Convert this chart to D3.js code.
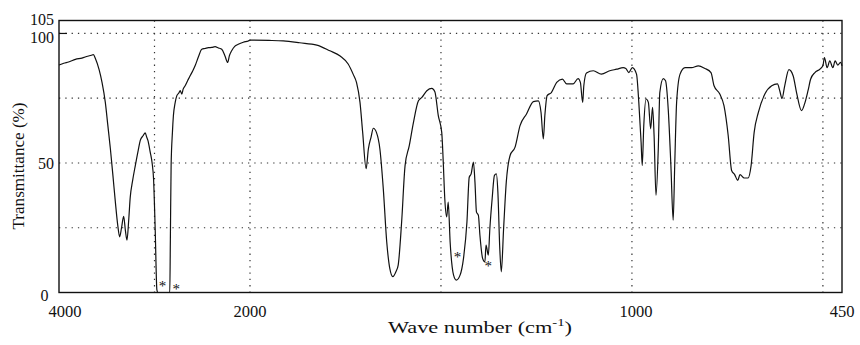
<!DOCTYPE html>
<html>
<head>
<meta charset="utf-8">
<script src="https://cdn.jsdelivr.net/npm/d3@7"></script>
<style>
  body { margin: 0; background: #fff; }
  svg text { font-family: "Liberation Serif", "DejaVu Serif", serif; fill: #111; }
</style>
</head>
<body>
<svg width="860" height="345"></svg>
<script>
// Spectrum: wave number (cm-1) and transmittance (%).
var waveNumber = [
    4000, 3950, 3900, 3828, 3760, 3700, 3661, 3640, 3619, 3580, 3549, 3515, 3490, 3462, 3435,
    3410, 3385, 3365, 3345, 3323, 3305, 3288, 3270, 3254, 3230, 3201, 3170, 3149, 3120, 3097,
    3082, 3069, 3045, 3025, 3010, 2993, 2975, 2965, 2900, 2840, 2834, 2826, 2812, 2802, 2785,
    2766, 2745, 2731, 2714, 2700, 2679, 2650, 2627, 2600, 2575, 2540, 2505, 2470, 2436, 2400,
    2366, 2330, 2296, 2262, 2234, 2215, 2192, 2160, 2123, 2070, 2018, 2000, 1950, 1913, 1870,
    1825, 1791, 1764, 1743, 1730, 1721, 1712, 1705, 1696, 1690, 1683, 1677, 1669, 1660, 1651,
    1642, 1634, 1626, 1618, 1612, 1603, 1594, 1583, 1572, 1559, 1550, 1537, 1524, 1516, 1507,
    1498, 1494, 1490, 1485, 1481, 1476, 1467, 1460, 1450, 1441, 1432, 1426, 1421, 1415, 1411,
    1407, 1402, 1398, 1391, 1385, 1382, 1376, 1372, 1366, 1360, 1355, 1351, 1346, 1342, 1336,
    1329, 1319, 1306, 1293, 1276, 1258, 1245, 1238, 1232, 1228, 1222, 1211, 1197, 1182, 1171,
    1154, 1141, 1135, 1129, 1126, 1119, 1101, 1080, 1058, 1040, 1023, 1016, 1008, 999, 988,
    982, 976, 973, 969, 963, 957, 951, 946, 942, 937, 931, 927, 918, 912, 905,
    898, 892, 888, 883, 874, 861, 844, 826, 809, 793, 785, 770, 759, 748, 739,
    731, 723, 717, 706, 696, 688, 680, 669, 652, 634, 619, 613, 607, 600, 589,
    578, 569, 556, 548, 539, 532, 521, 508, 500, 496, 489, 482, 474, 468, 461,
    454, 450
];
var transmittance = [
    87.8, 88.5, 89.0, 90.0, 90.5, 91.2, 91.6, 91.8, 90.3, 86.0, 81.0, 73.4, 65.0, 55.5, 45.0,
    35.0, 26.0, 21.5, 25.0, 29.4, 24.0, 20.2, 28.0, 36.8, 43.0, 49.0, 55.0, 58.7, 60.5, 61.6,
    60.0, 58.7, 54.2, 50.0, 43.9, 24.8, 1.0, 0.0, 0.0, 0.0, 20.0, 49.0, 62.0, 68.3, 73.0,
    76.0, 77.0, 77.9, 76.6, 78.5, 79.8, 82.0, 83.7, 85.5, 87.5, 91.0, 93.9, 94.2, 94.5, 94.6,
    94.9, 94.4, 93.9, 91.3, 88.8, 91.5, 93.3, 95.0, 95.8, 96.6, 97.1, 97.4, 97.3, 97.1, 96.4,
    95.5, 93.3, 91.3, 88.2, 84.3, 81.0, 73.4, 61.8, 47.8, 55.5, 60.0, 63.4, 61.8, 55.5, 40.0,
    19.5, 9.3, 6.1, 8.0, 10.6, 27.2, 49.0, 56.7, 65.7, 74.0, 75.3, 77.9, 78.8, 77.5, 68.3,
    61.8, 50.3, 36.2, 29.2, 34.9, 19.5, 6.7, 4.8, 6.7, 13.2, 27.2, 44.5, 45.8, 50.3, 42.6,
    31.0, 29.8, 22.1, 13.2, 11.8, 18.3, 14.4, 24.7, 36.2, 45.2, 45.8, 38.8, 17.0, 8.0, 24.7,
    42.6, 52.9, 56.1, 64.4, 68.9, 73.7, 74.0, 69.5, 59.3, 68.3, 76.0, 77.2, 81.1, 82.4, 80.5,
    80.5, 82.6, 81.1, 73.4, 79.8, 84.7, 85.6, 84.3, 85.6, 86.2, 86.8, 86.5, 84.9, 86.8, 84.3,
    73.4, 58.0, 49.0, 64.4, 74.7, 73.4, 63.2, 71.5, 60.6, 37.5, 55.5, 77.2, 82.6, 81.7, 70.8,
    49.0, 27.9, 49.0, 73.4, 84.3, 86.8, 86.8, 87.5, 86.5, 84.9, 79.8, 76.6, 72.1, 60.6, 47.1,
    45.5, 43.3, 45.5, 44.2, 44.2, 49.0, 61.8, 69.5, 76.6, 79.8, 80.5, 77.9, 74.9, 79.8, 86.0,
    83.7, 77.2, 70.2, 72.8, 77.9, 82.4, 84.9, 86.2, 87.5, 90.7, 86.8, 89.4, 86.8, 89.4, 87.8,
    88.8, 87.5
];

// Asterisk annotations (wave number, transmittance).
var starWaveNumber = [2916, 2773, 1457, 1376];
var starTransmittance = [3.5, 2.5, 15, 11.2];

var xTickValues = [4000, 2000, 1000, 450];
var yTickValues = [0, 50, 100, 105];
var xGridValues = [3000, 2000, 1500, 1000, 500];
var yGridValues = [25, 50, 75, 100];

var data = waveNumber.map(function(w, i) {
    return { wn: w, t: transmittance[i] };
});

//==========================================================================
// Scales: the wave number axis changes its scale at 2000 cm-1.

var plot = { left: 59, right: 842, top: 20.5, bottom: 292.5 };

var xScale = d3.scaleLinear()
    .domain([4000, 2000, 450])
    .range([plot.left, 250, plot.right])
;

var yScale = d3.scaleLinear()
    .domain([0, 105])
    .range([plot.bottom, plot.top])
;

var svg = d3.select("svg");

//==========================================================================
// Dotted grid.

svg.append("g")
    .selectAll("line")
    .data(xGridValues)
    .enter()
    .append("line")
    .attr("x1", function(d) { return xScale(d); })
    .attr("x2", function(d) { return xScale(d); })
    .attr("y1", plot.top)
    .attr("y2", plot.bottom)
    .attr("stroke", "#333")
    .attr("stroke-width", 1.2)
    .attr("stroke-dasharray", "1.3,5")
;

svg.append("g")
    .selectAll("line")
    .data(yGridValues)
    .enter()
    .append("line")
    .attr("x1", plot.left)
    .attr("x2", plot.right)
    .attr("y1", function(d) { return yScale(d); })
    .attr("y2", function(d) { return yScale(d); })
    .attr("stroke", "#333")
    .attr("stroke-width", 1.2)
    .attr("stroke-dasharray", "1.3,5")
;

// Small inward tick at 100 %.
svg.append("line")
    .attr("x1", plot.left)
    .attr("x2", plot.left + 8)
    .attr("y1", yScale(100))
    .attr("y2", yScale(100))
    .attr("stroke", "#111")
    .attr("stroke-width", 1.2)
;

//==========================================================================
// Frame.

svg.append("rect")
    .attr("x", plot.left)
    .attr("y", plot.top)
    .attr("width", plot.right - plot.left)
    .attr("height", plot.bottom - plot.top)
    .attr("fill", "none")
    .attr("stroke", "#111")
    .attr("stroke-width", 1.4)
;

//==========================================================================
// Spectrum.

var line = d3.line()
    .x(function(d) { return xScale(d.wn); })
    .y(function(d) { return yScale(d.t); })
    .curve(d3.curveMonotoneX)
;

svg.append("path")
    .datum(data)
    .attr("d", line)
    .attr("fill", "none")
    .attr("stroke", "#111")
    .attr("stroke-width", 1.2)
    .attr("stroke-linejoin", "round")
;

svg.append("g")
    .selectAll("text")
    .data(starWaveNumber)
    .enter()
    .append("text")
    .attr("x", function(d) { return xScale(d); })
    .attr("y", function(d, i) { return yScale(starTransmittance[i]) + 8; })
    .attr("text-anchor", "middle")
    .attr("font-size", 15)
    .text("*")
;

//==========================================================================
// Tick labels and axis titles.

svg.append("g")
    .selectAll("text")
    .data(xTickValues)
    .enter()
    .append("text")
    .attr("x", function(d) { return xScale(d) + (d === 4000 ? 6 : d === 1000 ? 4 : 0); })
    .attr("y", 317)
    .attr("text-anchor", "middle")
    .attr("font-size", 16.5)
    .text(function(d) { return d; })
;

svg.append("g")
    .selectAll("text")
    .data(yTickValues)
    .enter()
    .append("text")
    .attr("x", function(d) { return d === 0 ? 48.5 : 54; })
    .attr("y", function(d) {
        return d === 0 ? 301 : d === 105 ? 25 : d === 100 ? 43 : yScale(d) + 6;
    })
    .attr("text-anchor", "end")
    .attr("font-size", 16)
    .text(function(d) { return d; })
;

svg.append("text")
    .attr("transform", "translate(24,166) rotate(-90)")
    .attr("text-anchor", "middle")
    .attr("font-size", 17)
    .attr("textLength", 127)
    .attr("lengthAdjust", "spacingAndGlyphs")
    .text("Transmittance (%)")
;

var xTitle = svg.append("text")
    .attr("x", 480)
    .attr("y", 333)
    .attr("text-anchor", "middle")
    .attr("font-size", 16)
    .attr("textLength", 184)
    .attr("lengthAdjust", "spacingAndGlyphs")
;
xTitle.append("tspan").text("Wave number (cm");
xTitle.append("tspan")
    .attr("font-size", 10.5)
    .attr("dy", -7)
    .text("-1");
xTitle.append("tspan")
    .attr("dy", 7)
    .text(")");
</script>
</body>
</html>
